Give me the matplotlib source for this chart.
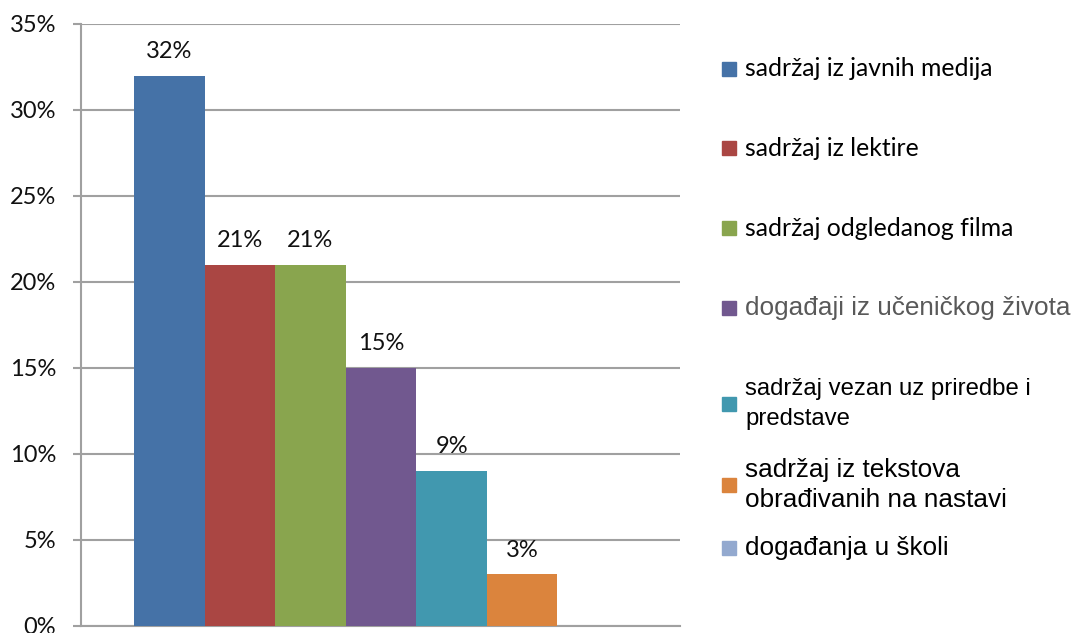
import matplotlib
matplotlib.use("Agg")
from matplotlib import pyplot as plt
from matplotlib.patches import Rectangle
from matplotlib.ticker import FuncFormatter

categories = [
    "sadržaj iz javnih medija",
    "sadržaj iz lektire",
    "sadržaj odgledanog filma",
    "događaji iz učeničkog života",
    "sadržaj vezan uz priredbe i\npredstave",
    "sadržaj iz tekstova\nobrađivanih na nastavi",
    "događanja u školi",
]
values = [32, 21, 21, 15, 9, 3, 0]
colors = ["#4572A7", "#AA4643", "#89A54E", "#71588F", "#4198AF", "#DB843D", "#93A9CF"]

# legend look (the original mixes two fonts)
leg_fonts = ["Lato", "Lato", "Lato", "Liberation Sans", "Liberation Sans", "Liberation Sans", "Liberation Sans"]
leg_colors = ["#000000", "#000000", "#000000", "#595959", "#000000", "#000000", "#000000"]
leg_sizes = [17.8, 17.8, 17.8, 18.8, 17.2, 18.8, 18.8]
leg_spacing = [1.3, 1.3, 1.3, 1.3, 1.45, 1.3, 1.3]
leg_y = [69, 148, 228, 308, 404, 485, 548]

fig = plt.figure(figsize=(10.78, 6.33), dpi=100)
ax = fig.add_axes([81 / 1078, 7 / 633, 599 / 1078, 602 / 633])

x = list(range(len(values)))
bars = ax.bar(x, values, width=1.0, color=colors, zorder=3)

for xi, v in zip(x, values):
    if v > 0:
        ax.annotate(f"{v}%", (xi, v), xytext=(0, 10), textcoords="offset points",
                    ha="center", va="bottom", fontsize=17, family="Lato", color="#111111")

ax.set_ylim(0, 35)
ax.set_xlim(-1.251, 7.237)
ax.set_yticks(range(0, 36, 5))
ax.yaxis.set_major_formatter(FuncFormatter(lambda v, p: f"{int(v)}%"))
ax.set_xticks([])
ax.grid(axis="y", color="#A0A0A0", linewidth=1.5, zorder=0)
for s in ["top", "right"]:
    ax.spines[s].set_visible(False)
for s in ["left", "bottom"]:
    ax.spines[s].set_color("#A0A0A0")
    ax.spines[s].set_linewidth(1.5)
ax.tick_params(axis="y", length=6, width=1.5, color="#A0A0A0", pad=12, labelsize=17)
for lbl in ax.get_yticklabels():
    lbl.set_family("Lato")
    lbl.set_color("#111111")

# legend drawn by hand to keep the uneven spacing
W, H = 1078, 633
for i, cat in enumerate(categories):
    yc = leg_y[i]
    sq = 14
    fig.patches.append(Rectangle((722 / W, (H - yc - sq / 2) / H), sq / W, sq / H,
                                 transform=fig.transFigure, color=colors[i]))
    fig.text(745 / W, (H - yc) / H, cat, ha="left", va="center", fontsize=leg_sizes[i],
             family=leg_fonts[i], color=leg_colors[i], linespacing=leg_spacing[i])

plt.savefig("out.png", dpi=100)
